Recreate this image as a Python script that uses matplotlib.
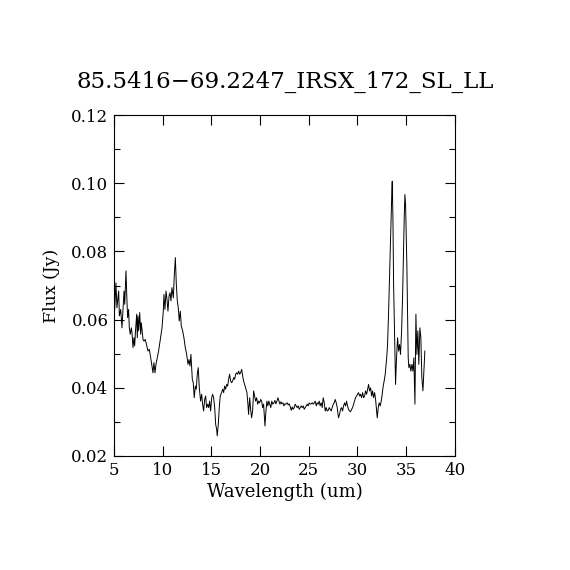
#!/usr/bin/env python3
import matplotlib
matplotlib.use("Agg")
import matplotlib.pyplot as plt
from matplotlib.ticker import MultipleLocator

title = "85.5416\u221269.2247_IRSX_172_SL_LL"

# values
wavelength = [
    5.0, 5.07, 5.2, 5.3, 5.48, 5.55, 5.69, 5.82, 5.92, 6.03, 6.1, 6.23, 6.33, 6.4, 6.5, 6.57,
    6.67, 6.78, 6.85, 6.95, 7.05, 7.12, 7.22, 7.33, 7.39, 7.46, 7.53, 7.64, 7.74, 7.8, 7.87,
    7.98, 8.08, 8.21, 8.36, 8.49, 8.63, 8.77, 8.9, 9.0, 9.1, 9.21, 9.31, 9.41, 9.58, 9.75,
    9.93, 10.06, 10.13, 10.23, 10.34, 10.44, 10.54, 10.65, 10.75, 10.85, 10.95, 11.09, 11.19,
    11.3, 11.4, 11.5, 11.6, 11.7, 11.81, 11.91, 12.05, 12.18, 12.32, 12.46, 12.6, 12.7, 12.8,
    12.9,
    13.04, 13.14, 13.24, 13.35, 13.45, 13.55, 13.65, 13.76, 13.89, 14.0, 14.1, 14.2, 14.31,
    14.41, 14.51, 14.62, 14.72, 14.82, 14.92, 15.03, 15.13, 15.23, 15.34, 15.44, 15.54, 15.6,
    15.71, 15.81, 15.91, 16.05, 16.16, 16.26, 16.36, 16.46, 16.57, 16.67, 16.77, 16.87, 16.98,
    17.08, 17.18, 17.29, 17.39, 17.49, 17.59, 17.7, 17.8, 17.9, 18.0, 18.11, 18.21, 18.31,
    18.41, 18.55, 18.65, 18.75, 18.82, 18.93, 19.03, 19.13, 19.23, 19.34, 19.44, 19.54, 19.65,
    19.75, 19.85, 19.95,
    20.06, 20.16, 20.26, 20.36, 20.5, 20.6, 20.7, 20.8, 20.9, 21.0, 21.1, 21.2, 21.3, 21.42,
    21.52, 21.63, 21.73, 21.83, 21.94, 22.04, 22.14, 22.24, 22.35, 22.45, 22.55, 22.65, 22.79,
    22.89, 22.99, 23.1, 23.2, 23.3, 23.4, 23.5, 23.6, 23.71, 23.81, 23.91, 24.02, 24.12, 24.22,
    24.33, 24.43, 24.53, 24.63, 24.74, 24.84, 24.94, 25.04, 25.15, 25.25, 25.35, 25.46, 25.56,
    25.66, 25.77, 25.87, 25.97, 26.07, 26.17, 26.28, 26.38, 26.48, 26.59, 26.69, 26.79, 26.89,
    27.0, 27.1, 27.2, 27.3, 27.41, 27.51, 27.61, 27.71, 27.82, 27.92, 28.05, 28.16, 28.26,
    28.37, 28.47, 28.57, 28.68, 28.78, 28.88, 28.98, 29.08, 29.19, 29.29, 29.4, 29.5, 29.6,
    29.7, 29.8, 29.91, 30.01, 30.11, 30.22, 30.32, 30.42, 30.53, 30.63, 30.73, 30.83, 30.94,
    31.04, 31.14, 31.24, 31.35, 31.45, 31.55, 31.65, 31.76, 31.86, 31.96, 32.03, 32.13, 32.23,
    32.33, 32.44, 32.54, 32.64, 32.74, 32.85,
    33.0, 33.09, 33.19, 33.3, 33.4, 33.46, 33.53, 33.57, 33.64, 33.71, 33.78, 33.84, 33.91,
    34.01, 34.12, 34.22, 34.32, 34.42, 34.53, 34.63, 34.73, 34.8, 34.87, 34.94, 35.0, 35.07,
    35.14, 35.21, 35.28, 35.38, 35.48, 35.59, 35.69, 35.79, 35.9, 36.0, 36.1, 36.2, 36.3,
    36.41, 36.51, 36.61, 36.72, 36.82, 36.92,
]
flux = [
    .0703, .0630, .0708, .0635, .0684, .0611, .0630, .0576, .0625, .0684, .0645, .0743, .0655,
    .0606, .0630, .0576, .0557, .0576, .0562, .0518, .0547, .0523, .0572, .0616, .0547, .0611,
    .0567, .0621, .0557, .0591, .0572, .0542, .0537, .0542, .0523, .0508, .0513, .0488, .0464,
    .0444, .0474, .0444, .0469, .0483, .0508, .0542, .0576, .0625, .0674, .0630, .0684, .0660,
    .0625, .0669, .0679, .0655, .0694, .0664, .0728, .0782, .0703, .0655, .0635, .0596, .0625,
    .0581, .0567, .0547, .0518, .0498, .0469, .0483, .0464, .0498,
    .0425, .0415, .0371, .0405, .0396, .0440, .0459, .0400, .0361, .0381, .0352, .0332, .0366,
    .0376, .0342, .0352, .0342, .0361, .0332, .0371, .0381, .0371, .0342, .0293, .0278, .0259,
    .0293, .0342, .0376, .0386, .0396, .0386, .0405, .0396, .0410, .0405, .0425, .0440, .0420,
    .0415, .0420, .0430, .0425, .0440, .0444, .0440, .0449, .0440, .0444, .0454, .0435, .0420,
    .0410, .0396, .0386, .0352, .0322, .0371, .0337, .0312, .0332, .0391, .0376, .0361, .0371,
    .0352, .0361, .0356,
    .0366, .0361, .0342, .0352, .0288, .0332, .0361, .0347, .0361, .0352, .0342, .0361, .0352,
    .0356, .0363, .0353, .0361, .0371, .0361, .0352, .0359, .0353, .0356, .0347, .0353, .0352,
    .0356, .0350, .0353, .0344, .0334, .0344, .0337, .0342, .0352, .0347, .0342, .0347, .0337,
    .0342, .0347, .0342, .0347, .0337, .0342, .0347, .0352, .0347, .0356, .0352, .0353, .0356,
    .0352, .0356, .0361, .0347, .0356, .0352, .0361, .0347, .0356, .0342, .0371, .0356, .0332,
    .0342, .0332, .0334, .0342, .0337, .0332, .0342, .0352, .0356, .0366, .0356, .0342, .0312,
    .0322, .0337, .0342, .0332, .0347, .0356, .0347, .0361, .0347, .0337, .0332, .0330, .0337,
    .0342, .0352, .0361, .0371, .0376, .0381, .0386, .0376, .0381, .0371, .0386, .0371, .0376,
    .0391, .0381, .0396, .0410, .0391, .0400, .0376, .0391, .0371, .0386, .0366, .0332, .0312,
    .0342, .0356, .0347, .0361, .0381, .0405, .0420, .0440,
    .0488, .0527, .0616, .0733, .0840, .0909, .0977, .1006, .0899, .0703, .0596, .0488, .0410,
    .0488, .0547, .0508, .0527, .0498, .0567, .0664, .0811, .0899, .0967, .0938, .0860, .0762,
    .0625, .0488, .0459, .0469, .0449, .0469, .0449, .0488, .0352, .0616, .0498, .0567, .0469,
    .0576, .0547, .0430, .0391, .0449, .0508,
]

plt.rcParams["font.family"] = ["DejaVu Serif"]

fig = plt.figure(figsize=(5.7, 5.7), dpi=100)
ax = fig.add_axes([0.2, 0.2, 0.598, 0.598])
ax.plot(wavelength, flux, color="black", linewidth=0.7)

ax.set_xlim(5, 40)
ax.set_ylim(0.02, 0.12)
ax.xaxis.set_major_locator(MultipleLocator(5))
ax.yaxis.set_major_locator(MultipleLocator(0.02))
ax.yaxis.set_minor_locator(MultipleLocator(0.01))
ax.yaxis.set_major_formatter(plt.FormatStrFormatter("%.2f"))
ax.tick_params(which="both", direction="in", top=True, right=True, width=0.8,
               labelsize=12, pad=4)
ax.tick_params(which="major", length=7)
ax.tick_params(which="minor", length=4)
for sp in ax.spines.values():
    sp.set_linewidth(0.8)

ax.set_xlabel("Wavelength (um)", fontsize=13, labelpad=3)
ax.set_ylabel("Flux (Jy)", fontsize=12.5, labelpad=8)
fig.text(0.5, 0.856, title, ha="center", va="center", fontsize=16.5)

fig.savefig("out.png", dpi=100)
